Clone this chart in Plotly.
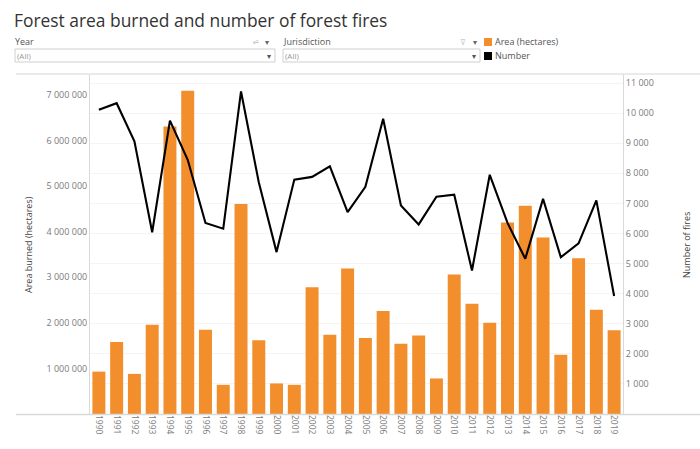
import plotly.graph_objects as go

years = [str(y) for y in range(1990, 2020)]
area_hectares = [930000, 1580000, 880000, 1960000, 6310000, 7090000, 1850000, 640000,
                 4610000, 1620000, 670000, 640000, 2780000, 1740000, 3190000, 1670000,
                 2260000, 1540000, 1720000, 780000, 3060000, 2420000, 2000000, 4200000,
                 4570000, 3870000, 1300000, 3420000, 2290000, 1840000]
num_fires = [10110, 10330, 9060, 6040, 9750, 8450, 6350, 6160, 10720, 7700,
             5380, 7790, 7880, 8230, 6710, 7550, 9810, 6930, 6300, 7220,
             7290, 4770, 7950, 6350, 5160, 7150, 5210, 5670, 7100, 3920]
left_ticks = [1000000, 2000000, 3000000, 4000000, 5000000, 6000000, 7000000]
right_ticks = [1000, 2000, 3000, 4000, 5000, 6000, 7000, 8000, 9000, 10000, 11000]

W, H = 700, 449
ML, MR, MT, MB = 90, 77, 74, 35
PW, PH = W - ML - MR, H - MT - MB

def px(x):
    return (x - ML) / PW

def py(y):
    return (H - MB - y) / PH

FONT = "Open Sans"
GREY = "#7a7a7a"

fig = go.Figure()
fig.add_trace(go.Bar(x=years, y=area_hectares, name="Area (hectares)",
                     marker=dict(color="#f28e2b", line=dict(width=0)), yaxis="y"))
fig.add_trace(go.Scatter(x=years, y=num_fires, name="Number", mode="lines",
                         line=dict(color="black", width=2.1), yaxis="y2"))

fig.update_layout(
    width=W, height=H,
    margin=dict(l=ML, r=MR, t=MT, b=MB),
    paper_bgcolor="white", plot_bgcolor="white",
    showlegend=False,
    separators=". ",
    bargap=0.27,
    font=dict(family=FONT, color=GREY, size=9),
    xaxis=dict(type="category", tickangle=90, tickfont=dict(size=8.5, color=GREY),
               showline=False, showgrid=False, ticks="", fixedrange=True),
    yaxis=dict(range=[0, 7460000], tickvals=left_ticks, tickformat=",d",
               tickfont=dict(size=9, color=GREY), showgrid=False, zeroline=False,
               showline=True, linecolor="#d9d9d9", linewidth=1, ticks=""),
    yaxis2=dict(range=[0, 11300], tickvals=right_ticks, tickformat=",d", overlaying="y",
                side="right", tickfont=dict(size=9, color=GREY), showgrid=True,
                gridcolor="#f4f4f4", zeroline=False, showline=True,
                linecolor="#d9d9d9", linewidth=1, ticks=""),
)

shapes = []
# frame lines
shapes.append(dict(type="line", xref="paper", yref="paper", x0=px(16), x1=px(700),
                   y0=py(74), y1=py(74), line=dict(color="#e3e3e3", width=1.5)))
shapes.append(dict(type="line", xref="paper", yref="paper", x0=px(16), x1=px(700),
                   y0=py(414.5), y1=py(414.5), line=dict(color="#d9d9d9", width=1.5)))
# dropdown boxes
for x0, x1 in [(15, 275), (283, 480)]:
    shapes.append(dict(type="rect", xref="paper", yref="paper", x0=px(x0), x1=px(x1),
                       y0=py(62), y1=py(49), line=dict(color="#cfcfcf", width=1),
                       fillcolor="white"))
# legend squares
shapes.append(dict(type="rect", xref="paper", yref="paper", x0=px(484), x1=px(492),
                   y0=py(46), y1=py(38), line=dict(width=0), fillcolor="#f28e2b"))
shapes.append(dict(type="rect", xref="paper", yref="paper", x0=px(484), x1=px(492),
                   y0=py(60), y1=py(52), line=dict(width=0), fillcolor="black"))
fig.update_layout(shapes=shapes)

def ann(text, x, y, size=9, color="#555", xanchor="left", angle=0, family=FONT):
    fig.add_annotation(text=text, x=px(x), y=py(y), xref="paper", yref="paper",
                       showarrow=False, xanchor=xanchor, yanchor="middle",
                       textangle=angle, font=dict(size=size, color=color, family=family))

ann("Forest area burned and number of forest fires", 12, 20, size=17.4, color="#333333")
ann("Year", 13, 42, size=9, color="#555")
ann("Jurisdiction", 281, 42, size=9, color="#555")
ann("(All)", 15, 56, size=8, color="#999")
ann("(All)", 283, 56, size=8, color="#999")
ann("▾", 269, 56, size=8, color="#555", xanchor="center")
ann("▾", 474, 56, size=8, color="#555", xanchor="center")
ann("⩫", 256, 42, size=9, color="#aaa", xanchor="center")
ann("▾", 267, 42, size=8, color="#666", xanchor="center")
ann("⊽", 463, 42, size=8, color="#ccc", xanchor="center")
ann("▾", 475, 42, size=8, color="#666", xanchor="center")
ann("Area (hectares)", 493, 42, size=9, color="#555")
ann("Number", 493, 56, size=9, color="#555")
ann("Area burned (hectares)", 28, 245, size=9, color="#444", xanchor="center", angle=-90)
ann("Number of fires", 686, 245, size=9, color="#444", xanchor="center", angle=-90)

fig.write_html("out.html", config={"displayModeBar": False},
               post_script="document.body.style.margin='0';document.body.style.overflow='hidden';")
